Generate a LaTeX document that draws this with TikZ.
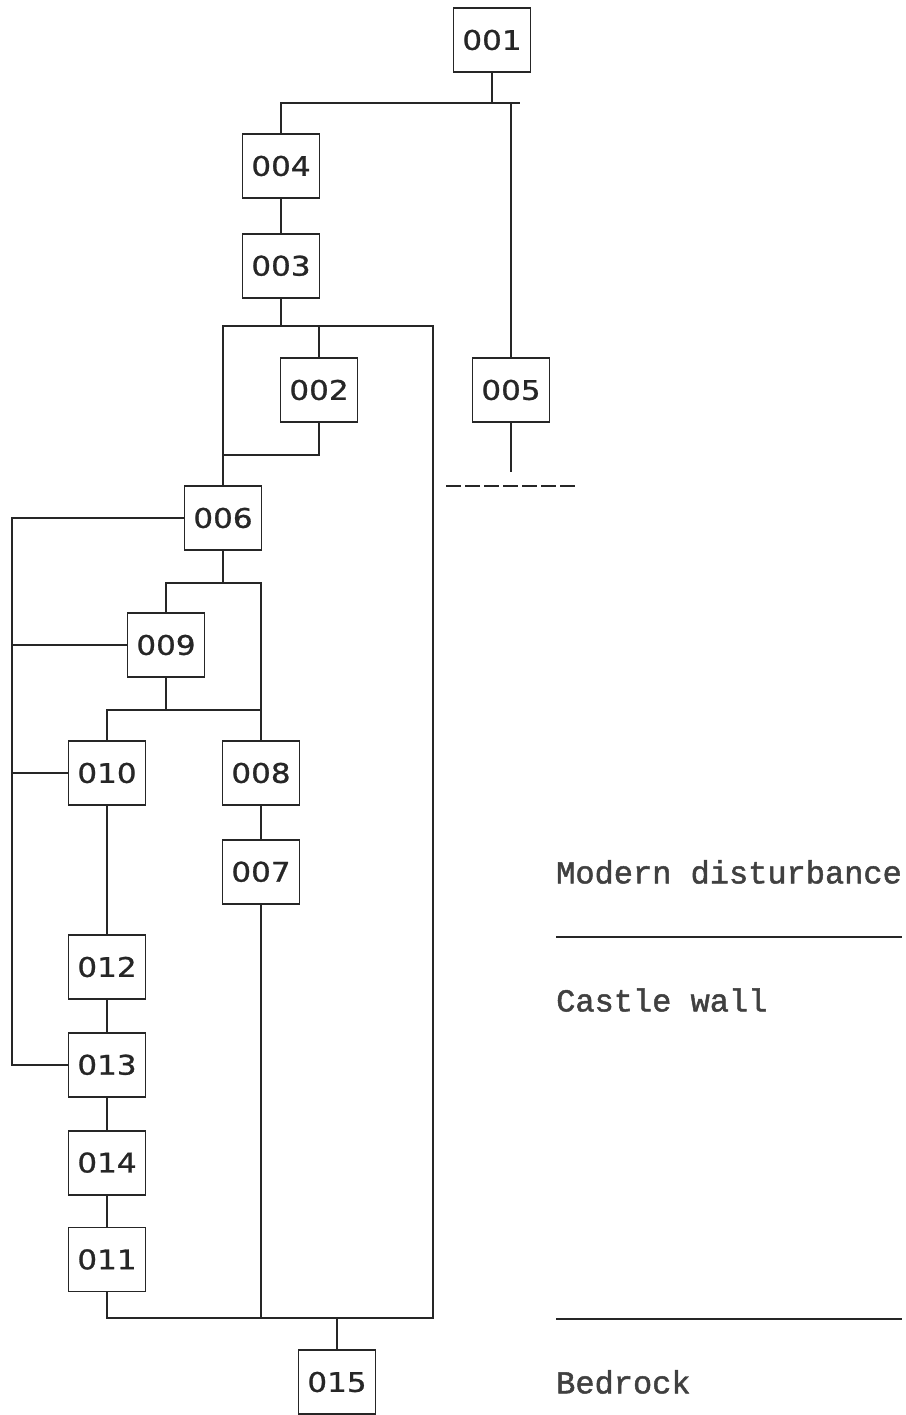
\documentclass[tikz,border=0pt]{standalone}
\usepackage{fontspec}
\usepackage{xcolor}
\usepackage{tikz}
\usetikzlibrary{positioning}
\newfontfamily\boxfont[FakeStretch=1.15,FakeBold=1]{DejaVu Sans}
\newfontfamily\lblfont[FakeBold=1.5]{Liberation Mono}
\begin{document}
\begin{tikzpicture}[
  x=1pt, y=-1pt,
  box/.style={rectangle, draw=black!85, line width=1.8pt, minimum width=77pt, minimum height=64pt,
               inner sep=0pt, text centered, text=black!85, font=\boxfont\fontsize{27}{29}\selectfont},
  lbl/.style={anchor=west, inner sep=0pt, text=black!75,
               font=\lblfont\fontsize{32}{34}\selectfont},
  conn/.style={line width=1.8pt, draw=black!85}
]
  \useasboundingbox (0,0) rectangle (905,1415);

  \node[box] (b001) at (492,40)  {001};
  \node[box] (b004) at (281,166) {004};
  \node[box, below=34pt of b004] (b003) {003};
  \node[box] (b002) at (319,390) {002};
  \node[box] (b005) at (511,390) {005};
  \node[box] (b006) at (223,518) {006};
  \node[box] (b009) at (166,645) {009};
  \node[box] (b010) at (107,773) {010};
  \node[box] (b008) at (261,773) {008};
  \node[box, below=33pt of b008] (b007) {007};
  \node[box] (b012) at (107,967)  {012};
  \node[box, below=32pt of b012] (b013) {013};
  \node[box, below=32pt of b013] (b014) {014};
  \node[box, below=31pt of b014] (b011) {011};
  \node[box] (b015) at (337,1382) {015};

  % junction points
  \coordinate (bar1e) at (520,103);
  \coordinate (bar2e) at (433,326);
  \coordinate (bar5)  at (337,1318);
  \coordinate (spine) at (12,800);
  \coordinate (d1) at (446,486);
  \coordinate (d2) at (575,486);

  \draw[conn] (b004.north) |- (bar1e);
  \draw[conn] (b001.south) -- (b001.south |- bar1e);
  \draw[conn] (b005.north) -- (b005.north |- bar1e);
  \draw[conn] (b005.south) -- ++(0,49) coordinate (s005);
  \draw[conn, dash pattern=on 15pt off 4pt] (d1) -- (d2);
  \draw[conn] (b004) -- (b003);
  \draw[conn] (b003.south) -- (b003.south |- bar2e);
  \draw[conn] (b006.north) |- (bar2e) -- (bar2e |- bar5) -| (b011.south);
  \draw[conn] (b002.north) -- (b002.north |- bar2e);
  \draw[conn] (b002.south) -- ++(0,32) -| (b006.north);
  \draw[conn] (b006.west) -| (spine) |- (b013.west);
  \draw[conn] (b009.west) -- (b009.west -| spine);
  \draw[conn] (b010.west) -- (b010.west -| spine);
  \draw[conn] (b006.south) -- ++(0,32) coordinate (j6);
  \draw[conn] (b009.north) |- (j6) -| (b008.north);
  \draw[conn] (b009.south) -- ++(0,32) coordinate (j9);
  \draw[conn] (b010.north) |- (j9) -| (b008.north);
  \draw[conn] (b010) -- (b012);
  \draw[conn] (b008) -- (b007);
  \draw[conn] (b007.south) -- (b007.south |- bar5);
  \draw[conn] (b012) -- (b013);
  \draw[conn] (b013) -- (b014);
  \draw[conn] (b014) -- (b011);
  \draw[conn] (bar5) -- (b015);

  % layers
  \node[lbl] (modern) at (556,872)  {Modern disturbance};
  \node[lbl] (castle) at (556,1000) {Castle wall};
  \node[lbl] (bedrock) at (556,1382) {Bedrock};
  \coordinate (l1a) at (556,937);
  \coordinate (l1b) at (902,937);
  \coordinate (l2a) at (556,1319);
  \coordinate (l2b) at (902,1319);
  \draw[conn, line width=1.4pt] (l1a) -- (l1b);
  \draw[conn, line width=1.4pt] (l2a) -- (l2b);
\end{tikzpicture}
\end{document}
